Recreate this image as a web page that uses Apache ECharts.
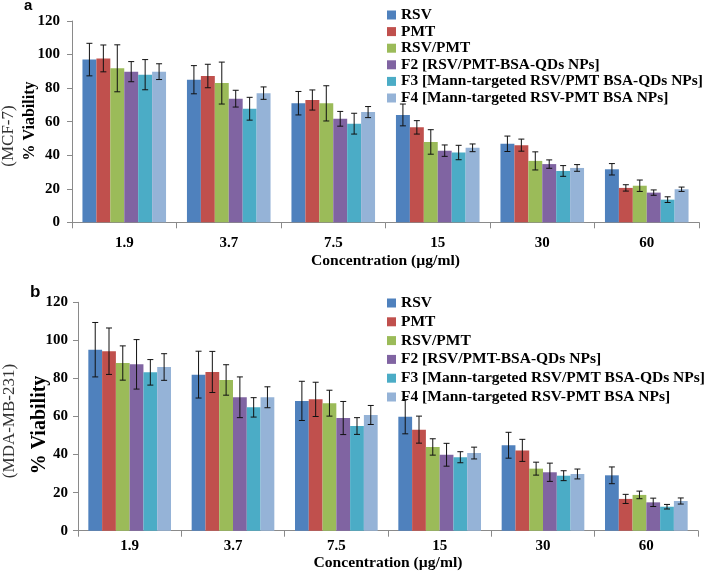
<!DOCTYPE html>
<html><head><meta charset="utf-8">
<script src="https://cdn.jsdelivr.net/npm/echarts@6/dist/echarts.min.js"></script>
<style>html,body{margin:0;padding:0;background:#fff}#c{width:708px;height:577px}</style>
</head><body><div id="c"></div>
<script>
// Categories (concentration, µg/ml)
const categories = ['1.9', '3.7', '7.5', '15', '30', '60'];
const seriesNames = ['RSV', 'PMT', 'RSV/PMT', 'F2 [RSV/PMT-BSA-QDs NPs]', 'F3 [Mann-targeted RSV/PMT BSA-QDs NPs]', 'F4 [Mann-targeted RSV-PMT BSA NPs]'];
const colors = ['#4F81BD', '#C0504D', '#9BBB59', '#8064A2', '#4BACC6', '#95B3D7'];
const yTicks = [0, 20, 40, 60, 80, 100, 120];

// (a) MCF-7 % viability
const mcfRSV    = [97, 85, 71, 64, 46.8, 31.6];
const mcfPMT    = [97.7, 87.2, 72.9, 56.6, 46, 20.5];
const mcfRSVPMT = [91.8, 83, 70.9, 47.9, 36.6, 21.8];
const mcfF2     = [89.8, 73.7, 61.7, 42.7, 34.7, 17.7];
const mcfF3     = [88, 67.7, 58.8, 41.6, 30.6, 13.5];
const mcfF4     = [89.8, 77, 65.7, 44.4, 32.4, 19.7];
// (a) error (±)
const mcfRSVErr    = [9.7, 8.4, 7, 6.5, 4.6, 3.4];
const mcfPMTErr    = [8, 7, 6, 4, 3.6, 1.9];
const mcfRSVPMTErr = [14, 12.5, 10.5, 7.3, 5.4, 3.4];
const mcfF2Err     = [6, 5, 4.4, 3.4, 2.5, 1.6];
const mcfF3Err     = [9, 6.8, 6.2, 4.3, 3.2, 1.7];
const mcfF4Err     = [4.7, 3.7, 3.3, 2.3, 2, 1.3];

// (b) MDA-MB-231 % viability
const mdaRSV    = [95.1, 82, 68.2, 59.9, 44.9, 29.1];
const mdaPMT    = [94.3, 83.4, 69, 53.1, 42.2, 16.7];
const mdaRSVPMT = [88.1, 79.2, 67, 44, 32.6, 18.8];
const mdaF2     = [87.4, 70.1, 59.2, 39.9, 30.7, 14.9];
const mdaF3     = [83.2, 64.8, 55, 38.6, 28.9, 12.6];
const mdaF4     = [86, 70.1, 60.8, 40.8, 29.8, 15.6];
// (b) error (±)
const mdaRSVErr    = [14.3, 12.3, 10.3, 9, 6.8, 4.4];
const mdaPMTErr    = [12.2, 10.8, 9, 7.1, 5.8, 2.4];
const mdaRSVPMTErr = [9, 8, 6.8, 4.3, 3.4, 2];
const mdaF2Err     = [13, 10.7, 8.7, 6, 4.8, 2.2];
const mdaF3Err     = [6.7, 5.1, 4.4, 2.9, 2.6, 1.2];
const mdaF4Err     = [7, 5.5, 5, 3.1, 2.6, 1.6];

const mcfVals = [mcfRSV, mcfPMT, mcfRSVPMT, mcfF2, mcfF3, mcfF4];
const mcfErrs = [mcfRSVErr, mcfPMTErr, mcfRSVPMTErr, mcfF2Err, mcfF3Err, mcfF4Err];
const mdaVals = [mdaRSV, mdaPMT, mdaRSVPMT, mdaF2, mdaF3, mdaF4];
const mdaErrs = [mdaRSVErr, mdaPMTErr, mdaRSVPMTErr, mdaF2Err, mdaF3Err, mdaF4Err];

const SERIF = '"Liberation Serif", "Times New Roman", serif';
const CAT_GAP = 0.2;
const N = seriesNames.length;

function errSeries(vals, errs, si, axisIdx) {
  return {
    type: 'custom', name: 'err' + axisIdx + '_' + si,
    xAxisIndex: axisIdx, yAxisIndex: axisIdx, z: 10, silent: true,
    encode: { x: 0, y: 1 },
    data: vals.map((v, i) => [i, v, errs[i]]),
    renderItem: function (params, api) {
      const ci = api.value(0), v = api.value(1), e = api.value(2);
      const w = api.size([1, 0])[0];
      const bw = w * (1 - CAT_GAP) / N;
      const off = -w * (1 - CAT_GAP) / 2 + (si + 0.5) * bw;
      const top = api.coord([ci, v + e]);
      const bot = api.coord([ci, v - e]);
      const x = top[0] + off;
      const cap = 3;
      const st = { stroke: '#111', lineWidth: 1 };
      return { type: 'group', children: [
        { type: 'line', shape: { x1: x, y1: top[1], x2: x, y2: bot[1] }, style: st },
        { type: 'line', shape: { x1: x - cap, y1: top[1], x2: x + cap, y2: top[1] }, style: st },
        { type: 'line', shape: { x1: x - cap, y1: bot[1], x2: x + cap, y2: bot[1] }, style: st }
      ]};
    }
  };
}

const series = [];
[[mcfVals, mcfErrs], [mdaVals, mdaErrs]].forEach(([vals, errs], ax) => {
  vals.forEach((arr, si) => {
    series.push({
      type: 'bar', name: seriesNames[si], xAxisIndex: ax, yAxisIndex: ax,
      data: arr, barGap: '0%', barCategoryGap: (CAT_GAP * 100) + '%',
      itemStyle: { color: colors[si] }, silent: true
    });
  });
  vals.forEach((arr, si) => series.push(errSeries(arr, errs[si], si, ax)));
});

function xAxis(gridIndex, margin, nameGap) {
  return {
    type: 'category', gridIndex, data: categories,
    axisLine: { lineStyle: { color: '#8a8a8a', width: 1 } },
    axisTick: { show: true, alignWithLabel: false, length: 6, lineStyle: { color: '#8a8a8a' } },
    axisLabel: { color: '#000', fontFamily: SERIF, fontWeight: 'bold', fontSize: 15, margin },
    name: 'Concentration (µg/ml)', nameLocation: 'middle', nameGap,
    nameTextStyle: { color: '#000', fontFamily: SERIF, fontWeight: 'bold', fontSize: 15.6 }
  };
}
function yAxis(gridIndex, margin) {
  return {
    type: 'value', gridIndex, min: yTicks[0], max: yTicks[yTicks.length - 1], interval: yTicks[1] - yTicks[0],
    splitLine: { show: false },
    axisLine: { show: true, lineStyle: { color: '#8a8a8a', width: 1 } },
    axisTick: { show: true, length: 5, lineStyle: { color: '#8a8a8a' } },
    axisLabel: { color: '#000', fontFamily: SERIF, fontWeight: 'bold', fontSize: 15, margin }
  };
}
function legend(top, fontSize, lineHeight, gap) {
  return {
    orient: 'vertical', left: 387, top, data: seriesNames,
    itemWidth: 9, itemHeight: 9, itemGap: gap, itemTextGap: 3, icon: 'rect',
    selectedMode: false,
    textStyle: { color: '#000', fontFamily: SERIF, fontWeight: 'bold', fontSize, lineHeight, padding: 0 },
    padding: 0
  };
}

const chart = echarts.init(document.getElementById('c'), null, { renderer: 'canvas' });
chart.setOption({
  animation: false,
  backgroundColor: '#fff',
  grid: [
    { left: 72, right: 9, top: 21, height: 201.3 },
    { left: 78, right: 10, top: 302.3, height: 228.4 }
  ],
  xAxis: [xAxis(0, 13, 31), xAxis(1, 8, 22)],
  yAxis: [yAxis(0, 12), yAxis(1, 10)],
  legend: [legend(7, 15.4, 16, 0.6), legend(294.5, 15.5, 17, 1.8)],
  series,
  graphic: [
    { type: 'text', left: 24, top: -2, style: { text: 'a', font: 'bold 15px "Liberation Sans", Arial, sans-serif', fill: '#000' } },
    { type: 'text', left: 30, top: 284, style: { text: 'b', font: 'bold 17px "Liberation Sans", Arial, sans-serif', fill: '#000' } },
    { type: 'text', x: 30, y: 121, rotation: Math.PI / 2, style: { text: '% Viability', font: 'bold 16px ' + SERIF, fill: '#000', align: 'center', verticalAlign: 'middle' } },
    { type: 'text', x: 9, y: 136, rotation: Math.PI / 2, style: { text: '(MCF-7)', font: '17px ' + SERIF, fill: '#333', align: 'center', verticalAlign: 'middle' } },
    { type: 'text', x: 40, y: 425, rotation: Math.PI / 2, style: { text: '% Viability', font: 'bold 20px ' + SERIF, fill: '#000', align: 'center', verticalAlign: 'middle' } },
    { type: 'text', x: 10, y: 421, rotation: Math.PI / 2, style: { text: '(MDA-MB-231)', font: '17px ' + SERIF, fill: '#333', align: 'center', verticalAlign: 'middle' } }
  ]
});
</script></body></html>
